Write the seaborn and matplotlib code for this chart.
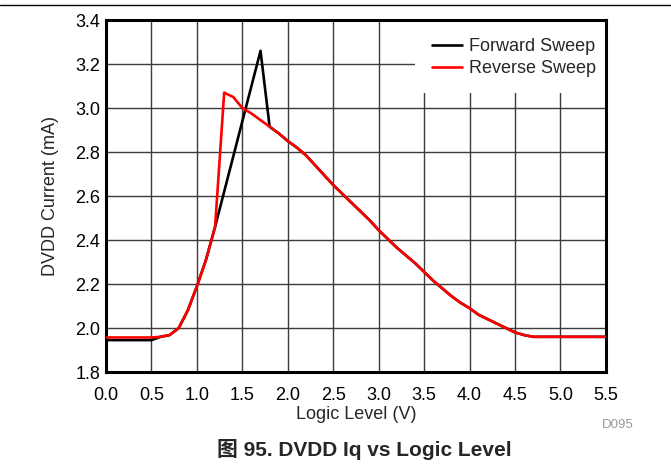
import matplotlib
matplotlib.use("Agg")
import matplotlib.pyplot as plt
import seaborn as sns
import pandas as pd
from matplotlib.lines import Line2D

# logic level sweep (V) and DVDD current (mA)
fwd_v = [0.0, 0.5, 0.6, 0.7, 0.8, 0.9, 1.0, 1.1, 1.2, 1.7, 1.8, 1.9, 2.0, 2.1,
         2.2, 2.3, 2.4, 2.5, 2.6, 2.7, 2.8, 2.9, 3.0, 3.1, 3.2, 3.3, 3.4, 3.5,
         3.6, 3.7, 3.8, 3.9, 4.0, 4.1, 4.2, 4.3, 4.4, 4.5, 4.6, 4.7, 5.0, 5.5]
fwd_i = [1.945, 1.945, 1.96, 1.968, 2.0, 2.08, 2.19, 2.31, 2.46, 3.26, 2.915,
         2.885, 2.85, 2.82, 2.785, 2.74, 2.695, 2.65, 2.61, 2.57, 2.53, 2.49,
         2.445, 2.405, 2.365, 2.33, 2.295, 2.255, 2.215, 2.18, 2.145, 2.115,
         2.09, 2.06, 2.04, 2.02, 2.0, 1.98, 1.968, 1.96, 1.96, 1.96]

rev_v = [0.0, 0.5, 0.6, 0.7, 0.8, 0.9, 1.0, 1.1, 1.2, 1.3, 1.4, 1.5, 1.6, 1.7,
         1.8, 1.9, 2.0, 2.1, 2.2, 2.3, 2.4, 2.5, 2.6, 2.7, 2.8, 2.9, 3.0, 3.1,
         3.2, 3.3, 3.4, 3.5, 3.6, 3.7, 3.8, 3.9, 4.0, 4.1, 4.2, 4.3, 4.4, 4.5,
         4.6, 4.7, 5.0, 5.5]
rev_i = [1.957, 1.957, 1.96, 1.968, 2.0, 2.08, 2.19, 2.31, 2.46, 3.07, 3.05,
         3.0, 2.975, 2.945, 2.915, 2.885, 2.85, 2.82, 2.785, 2.74, 2.695, 2.65,
         2.61, 2.57, 2.53, 2.49, 2.445, 2.405, 2.365, 2.33, 2.295, 2.255, 2.215,
         2.18, 2.145, 2.115, 2.09, 2.06, 2.04, 2.02, 2.0, 1.98, 1.968, 1.96,
         1.96, 1.96]

x_ticks = [0.0, 0.5, 1.0, 1.5, 2.0, 2.5, 3.0, 3.5, 4.0, 4.5, 5.0, 5.5]
y_ticks = [1.8, 2.0, 2.2, 2.4, 2.6, 2.8, 3.0, 3.2, 3.4]

df = pd.concat([
    pd.DataFrame({"v": fwd_v, "i": fwd_i, "sweep": "Forward Sweep"}),
    pd.DataFrame({"v": rev_v, "i": rev_i, "sweep": "Reverse Sweep"}),
])

sns.set_style("white")
plt.rcParams["font.family"] = ["Liberation Sans", "Noto Sans CJK SC", "DejaVu Sans"]

fig = plt.figure(figsize=(6.71, 4.66), dpi=100)
ax = fig.add_axes([0.158, 0.2017, 0.745, 0.7553])

sns.lineplot(data=df, x="v", y="i", hue="sweep", sort=False, estimator=None,
             palette={"Forward Sweep": "black", "Reverse Sweep": "#ff0000"},
             linewidth=1.9, legend=False, ax=ax, zorder=3)

ax.set_xlim(0, 5.5)
ax.set_ylim(1.8, 3.4)
ax.set_xticks(x_ticks)
ax.set_yticks(y_ticks)
ax.set_xticklabels([f"{t:.1f}" for t in x_ticks])
ax.set_yticklabels([f"{t:.1f}" for t in y_ticks])
ax.tick_params(length=0, labelsize=13, colors="black")
ax.tick_params(axis="x", pad=11)
ax.tick_params(axis="y", pad=4)
ax.grid(True, color="#3c3c3c", linewidth=1.0)
ax.set_axisbelow(True)
for s in ax.spines.values():
    s.set_visible(True)
    s.set_color("black")
    s.set_linewidth(2.2)

ax.set_xlabel("Logic Level (V)", fontsize=13, labelpad=1)
ax.set_ylabel("DVDD Current (mA)", fontsize=13, labelpad=12)

handles = [Line2D([], [], color="black", linewidth=1.9),
           Line2D([], [], color="#ff0000", linewidth=1.9)]
leg = ax.legend(handles, ["Forward Sweep", "Reverse Sweep"], loc="upper right",
                bbox_to_anchor=(1.012, 0.994), fontsize=13, frameon=True,
                fancybox=False, framealpha=1, edgecolor="none",
                facecolor="white", handlelength=1.7, handletextpad=0.35,
                labelspacing=0.25, borderpad=0.9, borderaxespad=0.0)
leg.set_zorder(2.4)

fig.add_artist(Line2D([0, 1], [0.989, 0.989], color="black", linewidth=1.0,
                      transform=fig.transFigure))
fig.text(0.921, 0.088, "D095", fontsize=9.5, color="#999999",
         ha="center", va="center")
fig.text(0.543, 0.036, "图 95. DVDD Iq vs Logic Level", fontsize=15,
         fontweight="bold", ha="center", va="center")

fig.savefig("out.png", dpi=100)
